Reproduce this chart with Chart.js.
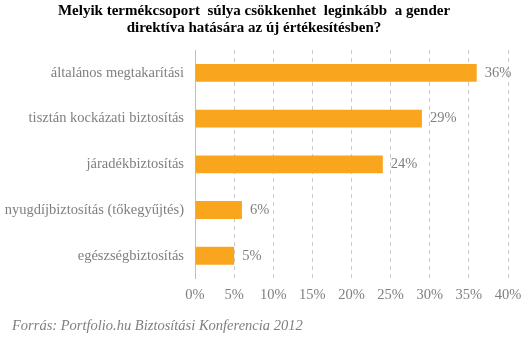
<!DOCTYPE html>
<html>
<head>
<meta charset="utf-8">
<script src="https://cdn.jsdelivr.net/npm/chart.js@4"></script>
<style>
  html, body { margin: 0; padding: 0; background: #fff; }
  #wrap { width: 531px; height: 342px; position: relative; }
</style>
</head>
<body>
<div id="wrap"><canvas id="myChart" width="531" height="342"></canvas></div>
<script>
var categories = [
    'általános megtakarítási',
    'tisztán kockázati biztosítás',
    'járadékbiztosítás',
    'nyugdíjbiztosítás (tőkegyűjtés)',
    'egészségbiztosítás'
];
var values = [36, 29, 24, 6, 5];
var tickLabels = ['0%', '5%', '10%', '15%', '20%', '25%', '30%', '35%', '40%'];
var sourceText = 'Forrás: Portfolio.hu Biztosítási Konferencia 2012';

var grayText = '#7f7f7f';
var serif = "'Liberation Serif', 'DejaVu Serif', serif";

// value labels at the end of each bar + source line at the bottom
var extras = {
    id: 'extras',
    afterDatasetsDraw: function(chart) {
        var c = chart.ctx;
        var meta = chart.getDatasetMeta(0);
        c.save();
        c.fillStyle = grayText;
        c.font = '14.5px ' + serif;
        c.textAlign = 'left';
        c.textBaseline = 'middle';
        meta.data.forEach(function(bar, i) {
            c.fillText(values[i] + '%', bar.x + 8, bar.y);
        });
        c.font = 'italic 14.5px ' + serif;
        c.fillText(sourceText, 12, 326);
        c.restore();
    }
};

var ctx = document.getElementById('myChart');
var myChart = new Chart(ctx, {
    type: 'bar',
    data: {
        labels: categories,
        datasets: [{
            data: values,
            backgroundColor: '#F9A61E',
            barPercentage: 0.78,
            categoryPercentage: 0.5
        }]
    },
    options: {
        indexAxis: 'y',
        responsive: false,
        animation: false,
        layout: { padding: { left: 0, right: 23, top: 0, bottom: 30 } },
        plugins: {
            legend: { display: false },
            tooltip: { enabled: false },
            title: {
                display: true,
                text: ['Melyik termékcsoport  súlya csökkenhet  leginkább  a gender', 'direktíva hatására az új értékesítésben?'],
                color: '#000',
                font: { family: serif, size: 15, weight: 'bold', lineHeight: 1.1 },
                padding: { top: 3, bottom: 14 }
            }
        },
        scales: {
            x: {
                min: 0,
                max: 40,
                ticks: {
                    stepSize: 5,
                    color: grayText,
                    font: { family: serif, size: 14.5 },
                    padding: 8,
                    callback: function(v, i) { return tickLabels[i]; }
                },
                grid: {
                    color: '#c8c8c8',
                    drawTicks: false
                },
                border: { display: false, dash: [4, 4] }
            },
            y: {
                afterFit: function(scale) { scale.width = 195; },
                ticks: {
                    color: grayText,
                    font: { family: serif, size: 14.5 },
                    padding: 11
                },
                grid: { display: false, drawTicks: false },
                border: { display: true, color: '#bfbfbf' }
            }
        }
    },
    plugins: [extras]
});
</script>
</body>
</html>
